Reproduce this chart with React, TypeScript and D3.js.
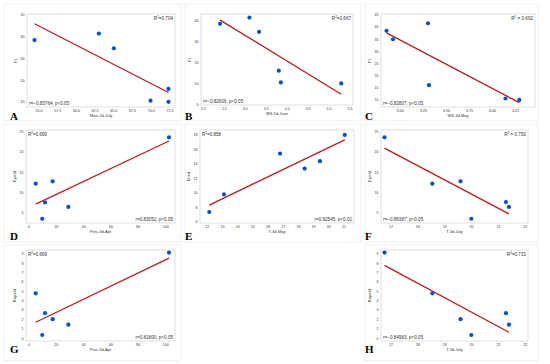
import React from 'react'
import * as d3 from 'd3'

const W = 550
const H = 364

// F1 panels
const moisJuly = [54.4, 63.0, 65.0, 69.9, 72.3, 72.3]
const f1ByMois = [38.5, 41.5, 34.7, 10.6, 10.1, 16.0]
const wsJune = [2.4, 3.1, 3.33, 3.8, 3.85, 5.29]
const f1ByWsJune = [38.6, 41.6, 34.8, 16.2, 10.6, 10.1]
const wsMay = [2.85, 2.92, 3.3, 3.31, 4.14, 4.29]
const f1ByWsMay = [38.5, 35.0, 41.6, 16.1, 10.6, 10.0]
// yield panels
const precApr = [4.9, 9.7, 11.7, 17.3, 28.8, 102.4]
const eyieldByPrec = [12.2, 3.6, 7.6, 12.8, 6.5, 23.6]
const tMay = [12.13, 13.1, 16.79, 18.41, 19.42, 21.05]
const driedByTMay = [7.37, 9.78, 15.4, 13.34, 14.36, 17.96]
const tJuly = [16.76, 18.54, 19.59, 19.99, 21.28, 21.39]
const eyieldByTJuly = [23.6, 12.2, 12.8, 3.6, 7.7, 6.5]
const rayieldByPrec = [4.8, 0.35, 2.68, 2.04, 1.45, 9.14]
const rayieldByTJuly = [9.15, 4.8, 2.04, 0.35, 2.68, 1.45]

// ticks
const ticksMois = [55, 57.5, 60, 62.5, 65, 67.5, 70, 72.5]
const ticksF1a = [10, 20, 30, 40, 50]
const ticksWsJune = [2.0, 2.5, 3.0, 3.5, 4.0, 4.5, 5.0, 5.5]
const ticksF1b = [0, 10, 20, 30, 40]
const ticksWsMay = [3.0, 3.25, 3.5, 3.75, 4.0, 4.25]
const ticksF1c = [10, 15, 20, 25, 30, 35, 40, 45]
const ticksPrec = [0, 20, 40, 60, 80, 100]
const ticksEyield = [5, 10, 15, 20, 25]
const ticksTMay = [12, 13, 14, 15, 16, 17, 18, 19, 20, 21]
const ticksDried = [6, 8, 10, 12, 14, 16, 18]
const ticksTJuly = [17, 18, 19, 20, 21, 22]
const ticksRayield = [0, 1, 2, 3, 4, 5, 6, 7, 8, 9]

const letters = ['A', 'B', 'C', 'D', 'E', 'F', 'G', 'H']
const r2Texts = ['=0.704', '=0.667', ' = 0.692', '=0.690', '=0.858', ' = 0.750', '=0.669', '=0.731']
const rTexts = [
  'r=\u22120.83764, p<0.05',
  'r=\u22120.82606, p<0.05',
  'r=\u22120.82807, p<0.05',
  'r=0.83052, p<0.05',
  'r=0.92545, p<0.01',
  'r=\u22120.86387, p<0.05',
  'r=0.81800, p<0.05',
  'r=\u22120.84963, p<0.05'
]
const xLabels = ['Mois-2d-July', 'WS-5d-June', 'WS-3d-May', 'Prec-3d-Apr', 'T-3d-May', 'T-3d-July', 'Prec-3d-Apr', 'T-3d-July']
const yLabels = ['F1', 'F1', 'F1', 'Eyield', 'Dried', 'Eyield', 'Rayield', 'Rayield']

// layout: plot box in page px + domains
const panels = [
  { xs: moisJuly, ys: f1ByMois, xt: ticksMois, yt: ticksF1a, fx: '.1f', box: [27, 14, 175, 107], xd: [53.4, 73.17], yd: [7.7, 50.5], pos: false },
  { xs: wsJune, ys: f1ByWsJune, xt: ticksWsJune, yt: ticksF1b, fx: '.1f', box: [201, 14, 353, 105], xd: [1.945, 5.57], yd: [-0.2, 43.3], pos: false },
  { xs: wsMay, ys: f1ByWsMay, xt: ticksWsMay, yt: ticksF1c, fx: '.2f', box: [381, 14, 535, 107], xd: [2.79, 4.46], yd: [7.1, 45.4], pos: false },
  { xs: precApr, ys: eyieldByPrec, xt: ticksPrec, yt: ticksEyield, fx: 'd', box: [26, 130, 175, 223], xd: [-2.2, 106.8], yd: [2.55, 25.4], pos: true },
  { xs: tMay, ys: driedByTMay, xt: ticksTMay, yt: ticksDried, fx: 'd', box: [200, 130, 354, 223], xd: [11.52, 21.66], yd: [5.86, 18.64], pos: true },
  { xs: tJuly, ys: eyieldByTJuly, xt: ticksTJuly, yt: ticksEyield, fx: 'd', box: [381, 130, 528, 223], xd: [16.63, 22.1], yd: [2.55, 25.4], pos: false },
  { xs: precApr, ys: rayieldByPrec, xt: ticksPrec, yt: ticksRayield, fx: 'd', box: [26, 250, 175, 341], xd: [-2.2, 106.8], yd: [-0.29, 9.42], pos: true },
  { xs: tJuly, ys: rayieldByTJuly, xt: ticksTJuly, yt: ticksRayield, fx: 'd', box: [381, 250, 528, 341], xd: [16.63, 22.1], yd: [-0.29, 9.42], pos: false }
]

const cells = [
  [4, 4, 181, 121], [185, 4, 361, 121], [365, 4, 538, 121],
  [4, 124, 181, 242], [185, 124, 361, 242], [365, 124, 538, 242],
  [4, 245, 181, 361], [365, 245, 538, 361]
]
const letterPos = [[10, 120], [185, 120], [365, 120], [10, 240], [185, 240], [365, 240], [10, 353], [365, 353]]

const fit = (xs, ys) => {
  const mx = d3.mean(xs), my = d3.mean(ys)
  const sxy = d3.sum(xs, (x, i) => (x - mx) * (ys[i] - my))
  const sxx = d3.sum(xs, x => (x - mx) ** 2)
  const b = sxy / sxx
  return x => my + b * (x - mx)
}

const Panel = ({ p, i }) => {
  const [l, t, r, b] = p.box
  const x = d3.scaleLinear().domain(p.xd).range([l, r])
  const y = d3.scaleLinear().domain(p.yd).range([b, t])
  const f = fit(p.xs, p.ys)
  const [x0, x1] = d3.extent(p.xs)
  const line = d3.line().x(d => x(d)).y(d => y(f(d)))
  const fmt = d3.format(p.fx)
  const txt = { fontFamily: 'Liberation Sans, Arial, sans-serif', fill: '#333' }
  const r2Left = p.pos
  return (
    <g>
      <rect x={l} y={t} width={r - l} height={b - t} fill='#fff' stroke='#d6d6d6' strokeWidth={0.8} />
      {p.xt.map(v => (
        <text key={'x' + v} x={x(v)} y={b + 4.6} fontSize={3.6} textAnchor='middle' style={txt}>{fmt(v)}</text>
      ))}
      {p.yt.map(v => (
        <text key={'y' + v} x={l - 2.5} y={y(v) + 1.3} fontSize={3.6} textAnchor='end' style={txt}>{v}</text>
      ))}
      <text x={(l + r) / 2} y={b + 9.5} fontSize={4} textAnchor='middle' style={txt}>{xLabels[i]}</text>
      <text transform={`translate(${l - 10.5},${(t + b) / 2}) rotate(-90)`} fontSize={4} textAnchor='middle' style={txt}>{yLabels[i]}</text>
      <path d={line([x0, x1])} stroke='#b21f1f' strokeWidth={1.3} fill='none' />
      {p.xs.map((v, k) => (
        <circle key={k} cx={x(v)} cy={y(p.ys[k])} r={2.1} fill='#0b52b8' />
      ))}
      <text x={r2Left ? l + 2 : r - 2} y={t + 6} fontSize={4.6} textAnchor={r2Left ? 'start' : 'end'} style={txt}>
        R<tspan dy={-1.8} fontSize={3}>2</tspan><tspan dy={1.8}>{r2Texts[i]}</tspan>
      </text>
      <text x={r2Left ? r - 2 : l + 2} y={b - 2} fontSize={4.6} textAnchor={r2Left ? 'end' : 'start'} style={txt}>{rTexts[i]}</text>
    </g>
  )
}

export default function App() {
  return (
    <svg width={W} height={H} style={{ position: 'absolute', left: 0, top: 0, background: '#fff' }}>
      {cells.map((c, k) => (
        <rect key={k} x={c[0]} y={c[1]} width={c[2] - c[0]} height={c[3] - c[1]} fill='none' stroke='#ececec' strokeWidth={0.8} />
      ))}
      {panels.map((p, i) => <Panel key={i} p={p} i={i} />)}
      {letters.map((s, k) => (
        <text key={s} x={letterPos[k][0]} y={letterPos[k][1]} fontSize={11} fontWeight='bold' fontFamily='Liberation Serif, Times New Roman, serif' fill='#000'>{s}</text>
      ))}
    </svg>
  )
}
